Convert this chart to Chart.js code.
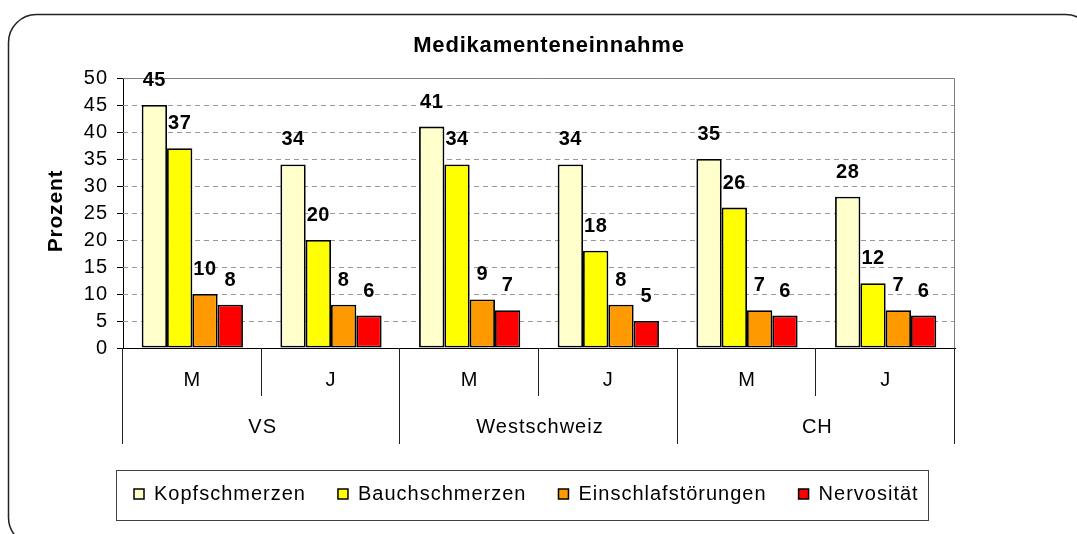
<!DOCTYPE html>
<html>
<head>
<meta charset="utf-8">
<title>Medikamenteneinnahme</title>
<script src="https://cdn.jsdelivr.net/npm/chart.js@4.4.1/dist/chart.umd.min.js"></script>
<style>
  html, body { margin: 0; padding: 0; background: #fff; }
  canvas { display: block; }
</style>
</head>
<body>
<canvas id="grafico" width="1077" height="534"></canvas>
<script>
// Daten
const kategorien = ['M', 'J', 'M', 'J', 'M', 'J'];
const gruppen = ['VS', 'Westschweiz', 'CH'];
const serienNamen = ['Kopfschmerzen', 'Bauchschmerzen', 'Einschlafstörungen', 'Nervosität'];
const kopfschmerzen = [45, 34, 41, 34, 35, 28];
const bauchschmerzen = [37, 20, 34, 18, 26, 12];
const einschlafstoerungen = [10, 8, 9, 8, 7, 7];
const nervositaet = [8, 6, 7, 5, 6, 6];
const yMin = 0, yMax = 50, yStep = 5;
const titel = 'Medikamenteneinnahme';
const yTitel = 'Prozent';

const SCHRIFT = "'Liberation Sans', Arial, sans-serif";

const zeichnen = {
    id: 'zeichnen',
    beforeDraw(chart) {
        const ctx = chart.ctx;
        ctx.letterSpacing = '1px';
        ctx.save();
        ctx.fillStyle = '#fff';
        ctx.fillRect(0, 0, chart.width, chart.height);
        ctx.restore();
    },
    beforeDatasetsDraw(chart) {
        const { ctx, chartArea: a, scales: { y } } = chart;
        ctx.save();
        ctx.lineWidth = 1;
        ctx.strokeStyle = '#999';
        ctx.setLineDash([5, 4]);
        y.ticks.forEach(t => {
            if (t.value <= yMin || t.value >= yMax) return;
            const py = Math.round(y.getPixelForValue(t.value)) + 0.5;
            ctx.beginPath();
            ctx.moveTo(a.left, py);
            ctx.lineTo(a.right, py);
            ctx.stroke();
        });
        // Rahmen oben und rechts
        ctx.setLineDash([]);
        ctx.strokeStyle = '#808080';
        ctx.beginPath();
        ctx.moveTo(a.left, a.top + 0.5);
        ctx.lineTo(a.right - 0.5, a.top + 0.5);
        ctx.lineTo(a.right - 0.5, a.bottom);
        ctx.stroke();
        ctx.restore();
    },
    afterDatasetsDraw(chart) {
        const ctx = chart.ctx;
        ctx.save();
        ctx.fillStyle = '#000';
        ctx.font = 'bold 20px ' + SCHRIFT;
        ctx.letterSpacing = '0.5px';
        ctx.textAlign = 'center';
        ctx.textBaseline = 'alphabetic';
        chart.data.datasets.forEach((ds, i) => {
            chart.getDatasetMeta(i).data.forEach((el, j) => {
                ctx.fillText(String(ds.data[j]), el.x, el.y - 19);
            });
        });
        ctx.restore();
    },
    afterDraw(chart) {
        const { ctx, chartArea: a, scales: { x } } = chart;
        ctx.save();

        // Kategorieachse mit zwei Ebenen
        const breite = x.getPixelForValue(1) - x.getPixelForValue(0);
        ctx.strokeStyle = '#222';
        ctx.lineWidth = 1;
        for (let i = 0; i <= kategorien.length; i++) {
            const bx = Math.round(i < kategorien.length ? x.getPixelForValue(i) - breite / 2 : x.getPixelForValue(i - 1) + breite / 2) - 0.5;
            const unten = i % 2 === 0 ? 444 : 396;
            ctx.beginPath();
            ctx.moveTo(bx, a.bottom);
            ctx.lineTo(bx, unten);
            ctx.stroke();
        }
        ctx.fillStyle = '#000';
        ctx.font = '20px ' + SCHRIFT;
        ctx.letterSpacing = '1px';
        ctx.textAlign = 'center';
        ctx.textBaseline = 'middle';
        gruppen.forEach((g, k) => {
            const gx = (x.getPixelForValue(2 * k) + x.getPixelForValue(2 * k + 1)) / 2;
            ctx.fillText(g, gx + 1, 427);
        });

        // Titel
        ctx.font = 'bold 22px ' + SCHRIFT;
        ctx.letterSpacing = '0.8px';
        ctx.fillText(titel, 549, 46);

        // Achsentitel
        ctx.save();
        ctx.font = 'bold 21px ' + SCHRIFT;
        ctx.translate(56, 211);
        ctx.rotate(-Math.PI / 2);
        ctx.fillText(yTitel, 0, 0);
        ctx.restore();

        // Legende
        ctx.strokeStyle = '#404040';
        ctx.lineWidth = 1;
        ctx.strokeRect(116.5, 470.5, 812, 50);
        ctx.font = '20px ' + SCHRIFT;
        ctx.letterSpacing = '1px';
        ctx.textAlign = 'left';
        let lx = 134;
        chart.data.datasets.forEach(ds => {
            ctx.fillStyle = ds.backgroundColor;
            ctx.fillRect(lx, 489, 10, 10);
            ctx.strokeStyle = '#000';
            ctx.lineWidth = 1.5;
            ctx.strokeRect(lx, 489, 10, 10);
            ctx.fillStyle = '#000';
            ctx.fillText(ds.label, lx + 20, 494);
            lx += 20 + ctx.measureText(ds.label).width + 32;
        });

        // Aeusserer Rahmen
        ctx.strokeStyle = '#222';
        ctx.lineWidth = 1.5;
        ctx.beginPath();
        ctx.roundRect(8.5, 14.5, 1085, 531, 28);
        ctx.stroke();
        ctx.restore();
    }
};

const datensaetze = [kopfschmerzen, bauchschmerzen, einschlafstoerungen, nervositaet];
const fuellung = ['#FFFFCC', '#FFFF00', '#FF9900', '#FF0000'];

new Chart(document.getElementById('grafico'), {
    type: 'bar',
    data: {
        labels: kategorien,
        datasets: datensaetze.map((werte, i) => ({
            label: serienNamen[i],
            data: werte,
            backgroundColor: fuellung[i],
            borderColor: '#000',
            borderWidth: 1.8,
            borderSkipped: false,
            categoryPercentage: 0.73,
            barPercentage: 1.0
        }))
    },
    options: {
        responsive: false,
        animation: false,
        layout: { padding: { top: 78, right: 122, left: 0, bottom: 0 } },
        plugins: {
            legend: { display: false },
            title: { display: false },
            tooltip: { enabled: false }
        },
        scales: {
            x: {
                grid: { display: false, drawTicks: false },
                border: { color: '#000', width: 1 },
                ticks: { color: '#000', font: { family: SCHRIFT, size: 20 }, padding: 20, maxRotation: 0 },
                afterFit(s) { s.height = 186; }
            },
            y: {
                min: yMin,
                max: yMax,
                grid: { drawOnChartArea: false, drawTicks: true, tickLength: 6, color: '#000' },
                border: { color: '#000', width: 1 },
                ticks: { stepSize: yStep, color: '#000', font: { family: SCHRIFT, size: 20 }, padding: 9 },
                afterFit(s) { s.width = 123; }
            }
        }
    },
    plugins: [zeichnen]
});
</script>
</body>
</html>
